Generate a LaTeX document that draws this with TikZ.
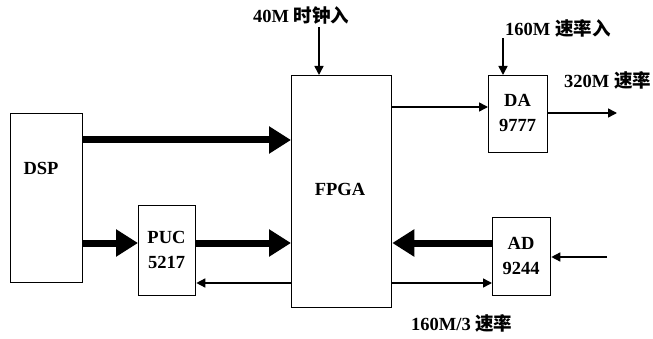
\documentclass[tikz,border=0pt]{standalone}
\usepackage{fontspec}
\setmainfont{Liberation Serif}
\newfontfamily\cjk{Noto Sans CJK SC}
\usetikzlibrary{arrows.meta}
\begin{document}
\begin{tikzpicture}[x=1pt,y=-1pt,
  blk/.style={draw,line width=1.3pt,inner sep=0pt},
  lbl/.style={font=\fontsize{18.5}{20}\selectfont\bfseries,inner sep=0pt},
  bus/.style={line width=7pt,-{Triangle[length=22pt,width=26pt]}},
  sig/.style={line width=1.5pt,-{Triangle[length=9pt,width=9pt]}}]
\useasboundingbox (0,0) rectangle (653,339);
% boxes
\node[blk,minimum width=72pt,minimum height=169pt,anchor=north west] (dsp) at (10,113) {};
\node[lbl] at (41,168) {DSP};
\node[blk,minimum width=57pt,minimum height=90pt,anchor=north west] (puc) at (138,205) {};
\node[lbl,align=center] at (166.5,250) {PUC\\[5pt]5217};
\node[blk,minimum width=100pt,minimum height=232pt,anchor=north west] (fpga) at (291,75) {};
\node[lbl] at (340,189) {FPGA};
\node[blk,minimum width=59pt,minimum height=77pt,anchor=north west] (da) at (488,75) {};
\node[lbl,align=center] at (517.5,113) {DA\\[5pt]9777};
\node[blk,minimum width=58pt,minimum height=78pt,anchor=north west] (ad) at (492,217) {};
\node[lbl,align=center] at (521,256) {AD\\[5pt]9244};
% free ends
\coordinate (clk) at (319,27);
\coordinate (dain) at (503,38);
\coordinate (daout) at (617,113);
\coordinate (adin) at (607,257);
% connectors
\draw[bus] (dsp.east |- 0,140) -- (fpga.west |- 0,140);
\draw[bus] (dsp.east |- 0,243) -- (puc.west |- 0,243);
\draw[bus] (puc.east |- 0,243) -- (fpga.west |- 0,243);
\draw[bus] (ad.west |- 0,243) -- (fpga.east |- 0,243);
\draw[sig] (fpga.west |- 0,283) -- (puc.east |- 0,283);
\draw[sig] (fpga.east |- 0,283) -- (ad.west |- 0,283);
\draw[sig] (fpga.east |- 0,107) -- (da.west |- 0,107);
\draw[sig] (da.east |- 0,113) -- (daout);
\draw[sig] (adin) -- (ad.east |- adin);
\draw[sig] (clk) -- (clk |- fpga.north);
\draw[sig] (dain) -- (dain |- da.north);
% labels
\node[lbl,anchor=west] (t1) at (253,15) {40M {\cjk 时钟入}};
\node[lbl,anchor=west] (t2) at (505,28) {160M {\cjk 速率入}};
\node[lbl,anchor=west] (t3) at (564,80) {320M {\cjk 速率}};
\node[lbl,anchor=west] (t4) at (411,323) {160M/3 {\cjk 速率}};
\end{tikzpicture}
\end{document}
